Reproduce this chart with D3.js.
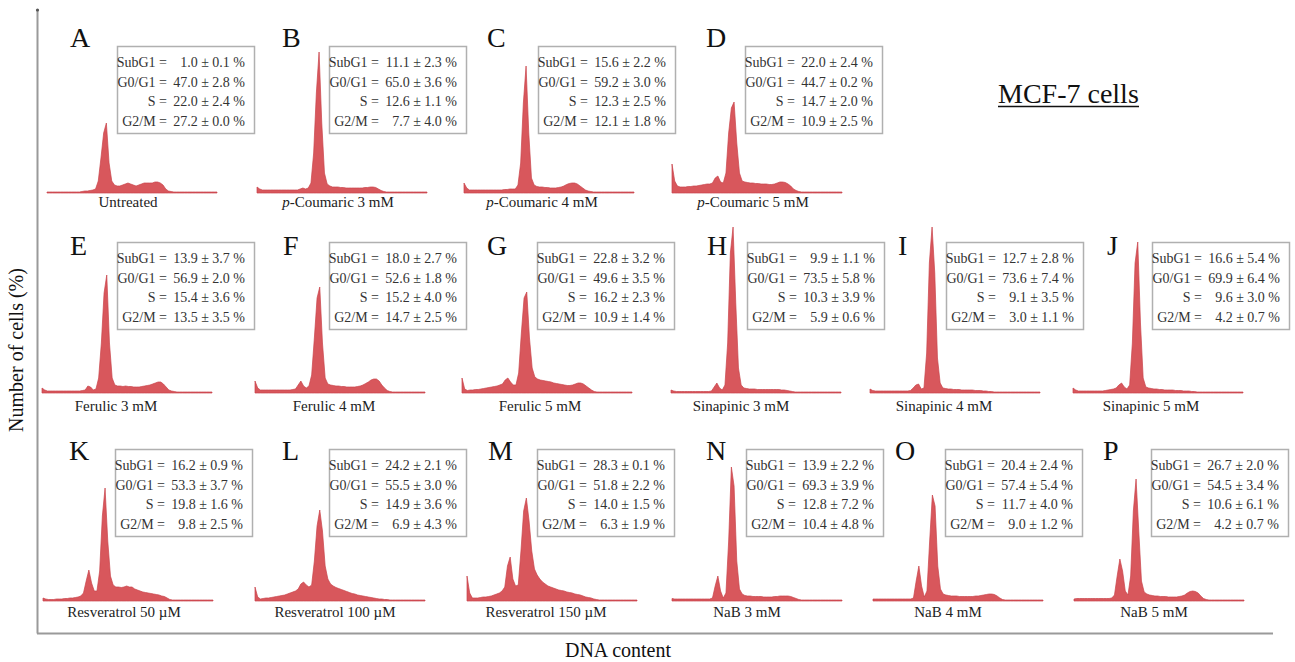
<!DOCTYPE html>
<html>
<head>
<meta charset="utf-8">
<script src="https://cdn.jsdelivr.net/npm/d3@7/dist/d3.min.js"></script>
<style>
  html, body { margin: 0; padding: 0; background: #fff; }
  svg { display: block; font-family: "Liberation Serif", "Times New Roman", serif; }
</style>
</head>
<body>
<svg id="chart" width="1295" height="662"></svg>
<script>
// ---------- DATA ----------
const letters = ["A","B","C","D","E","F","G","H","I","J","K","L","M","N","O","P"];
const treatments = ["Untreated","p-Coumaric 3 mM","p-Coumaric 4 mM","p-Coumaric 5 mM",
  "Ferulic 3 mM","Ferulic 4 mM","Ferulic 5 mM","Sinapinic 3 mM","Sinapinic 4 mM","Sinapinic 5 mM",
  "Resveratrol 50 µM","Resveratrol 100 µM","Resveratrol 150 µM","NaB 3 mM","NaB 4 mM","NaB 5 mM"];
const phaseLabels = ["SubG1 =","G0/G1 =","S =","G2/M ="];
const subG1Vals = ["1.0 ± 0.1","11.1 ± 2.3","15.6 ± 2.2","22.0 ± 2.4","13.9 ± 3.7","18.0 ± 2.7","22.8 ± 3.2","9.9 ± 1.1","12.7 ± 2.8","16.6 ± 5.4","16.2 ± 0.9","24.2 ± 2.1","28.3 ± 0.1","13.9 ± 2.2","20.4 ± 2.4","26.7 ± 2.0"];
const g0g1Vals = ["47.0 ± 2.8","65.0 ± 3.6","59.2 ± 3.0","44.7 ± 0.2","56.9 ± 2.0","52.6 ± 1.8","49.6 ± 3.5","73.5 ± 5.8","73.6 ± 7.4","69.9 ± 6.4","53.3 ± 3.7","55.5 ± 3.0","51.8 ± 2.2","69.3 ± 3.9","57.4 ± 5.4","54.5 ± 3.4"];
const sVals = ["22.0 ± 2.4","12.6 ± 1.1","12.3 ± 2.5","14.7 ± 2.0","15.4 ± 3.6","15.2 ± 4.0","16.2 ± 2.3","10.3 ± 3.9","9.1 ± 3.5","9.6 ± 3.0","19.8 ± 1.6","14.9 ± 3.6","14.0 ± 1.5","12.8 ± 7.2","11.7 ± 4.0","10.6 ± 6.1"];
const g2mVals = ["27.2 ± 0.0","7.7 ± 4.0","12.1 ± 1.8","10.9 ± 2.5","13.5 ± 3.5","14.7 ± 2.5","10.9 ± 1.4","5.9 ± 0.6","3.0 ± 1.1","4.2 ± 0.7","9.8 ± 2.5","6.9 ± 4.3","6.3 ± 1.9","10.4 ± 4.8","9.0 ± 1.2","4.2 ± 0.7"];

// DNA histograms (64 channels each, relative cell counts)
const histA = [1,1,1,1,1,1,1,1,1,1,1,1,1,1.5,2,2,2.5,3,4,12,35,60,70,30,12,8,7,7,8,9,10,9,8,7,8,9,10,10,10,10,11,11,10,8,4,2,1.5,1,1,1,1,1,1,1,1,1,1,1,1,1,1,1,1,1];
const histB = [6,4,3,3,3,3,3,3,3,3,3,3,3,3,3,3,4,5,4,5,10,40,100,141,70,20,9,7,6,6,6,5.5,5.5,5,5,5,5,5,5,5,5.5,5.5,6,6,5.5,4,2.5,1.5,1,1,1,1,1,1,1,1,1,1,1,1,1,1,1,1];
const histC = [10,5,3,3,3,3,3,3,3,3,3,3,3,3,3,3.5,3.5,4,4,4,8,30,90,127,60,15,8,6.5,6,6,5.5,5.5,5,5,5,5.5,6,7,8.5,9.5,10,10,9,7,5,3,2,1.5,1,1,1,1,1,1,1,1,1,1,1,1,1,1,1,1];
const histD = [29,12,7,6,6,6,6.5,6.5,7,7,7.5,8,8.5,9,9,10,15,17,11,10,20,60,85,91,50,20,12,11,10.5,10,10,9.5,9.5,9,9,9,8.5,8.5,9,10,11,11,10.5,9,7,4,2.5,1.5,1,1,1,1,1,1,1,1,1,1,1,1,1,1,1,1];
const histE = [5,3,2,2,2,2,2,2,2,2,2,2,2,2,2,2.5,3,7,6,3,4,15,50,100,118,50,15,8,7,7,6.5,7,6.5,6.5,6,6,6,6.5,7,7.5,8,9,10,11,11,9,6,3,2,1.5,1,1,1,1,1,1,1,1,1,1,1,1,1,1];
const histF = [12,5,3,3,3,3,3,3,3,3,3,3,3,3,3.5,4,8,12,7,5,7,18,55,95,106,50,15,9,8,7.5,7,7,6.5,6.5,6,6,6,6,6.5,7,8,9.5,11,13,14,14,12,8,5,2.5,1.5,1,1,1,1,1,1,1,1,1,1,1,1,1];
const histG = [15,4,2.5,3,3,3.5,3.5,4,4.5,5,5.5,6,6.5,7,8,9,13,15,11,8,8,20,60,95,101,55,25,16,14,13,12.5,12,11.5,11,10,9.5,9,8.5,8,7.5,7.5,8,9,10,10,9,7,5,3,1.5,1,1,1,1,1,1,1,1,1,1,1,1,1,1];
const histH = [3,2,1.5,1.5,1.5,1.5,1.5,1.5,1.5,1.5,1.5,1.5,1.5,1.5,1.5,2,6,10,5,3,8,50,140,166,90,25,8,5,4.5,4,4,4,3.5,3.5,3.5,3.5,3.5,3.5,3.5,3.5,3.5,3,3,2.5,2,1.5,1,1,1,1,1,1,1,1,1,1,1,1,1,1,1,1,1,1];
const histI = [4,2.5,2,2,2,2,2,2,2,2,2,2,2,2,2,2.5,5,8,9,4,5,40,130,166,120,35,10,5,4.5,4,4,3.5,3.5,3.5,3,3,3,3,3,2.5,2.5,2.5,2,2,1.5,1.5,1,1,1,1,1,1,1,1,1,1,1,1,1,1,1,1,1,1];
const histJ = [5,3,2,2,2,2,2,2,2,2,2,2,2.5,3,3.5,4,5,8,10,6,4,8,50,130,151,70,15,6,5,4.5,4,4,3.5,3.5,3,3,3,3,2.5,2.5,2.5,2,2,2,1.5,1.5,1,1,1,1,1,1,1,1,1,1,1,1,1,1,1,1,1,1];
const histK = [3,2,1.5,1.5,1.5,2,2,2,2.5,2.5,3,3,3.5,4,5,8,20,31,18,10,10,30,85,113,60,25,16,14,14,13.5,14,15,14,14,12,11,10,9,8.5,8,7.5,7,6.5,6,5,4.5,3,1.5,1,1,1,1,1,1,1,1,1,1,1,1,1,1,1,1];
const histL = [14,4,2,2.5,3,3,3.5,4,4.5,5,5.5,6,7,8,9,10,12,17,19,16,14,16,40,75,91,70,35,22,17,15,13.5,12.5,11.5,10.5,9.5,8.5,7.5,7,6,5.5,5,4.5,4,3.5,3,2.5,2,2,1.5,1.5,1,1,1,1,1,1,1,1,1,1,1,1,1,1];
const histM = [25,8,3,3,3,3.5,4,4,4.5,5,6,7,8,10,14,35,44,22,15,16,50,90,103,80,50,32,26,22,19,17,15,14,13,12,11,10.5,10,9,8.5,8,7,6.5,6,5,4,3.5,3,2,1.5,1,1,1,1,1,1,1,1,1,1,1,1,1,1,1];
const histN = [2.5,2,2,2,2,2,2,2,2,2,2,2,2,2,2,3,15,25,10,3,8,60,134,115,40,12,7,5.5,5,5,4.5,4.5,4.5,4.5,4,4,4,4,4.5,4.5,5,5,5,5,4.5,3.5,2.5,1.5,1,1,1,1,1,1,1,1,1,1,1,1,1,1,1,1];
const histO = [2,2,2,2,2,2,2,2,2,2,2,2,2,2,2,3,20,35,15,4,10,60,106,95,35,12,7,6,5.5,5,5,5,4.5,4.5,4.5,4.5,4.5,4.5,5,5,5.5,6,6.5,7,7,6.5,5,3,1.5,1,1,1,1,1,1,1,1,1,1,1,1,1,1,1];
const histP = [2,2.5,2.5,2.5,2.5,2.5,2.5,2.5,2.5,2.5,2.5,2.5,2.5,2.5,3,6,25,42,30,10,6,25,90,122,70,20,9,7,6,5.5,5,5,4.5,4.5,4.5,4,4,4,4,4.5,5,6,8,9.5,10,9.5,8,5,2.5,1.5,1,1,1,1,1,1,1,1,1,1,1,1,1,1];
const histograms = [histA,histB,histC,histD,histE,histF,histG,histH,histI,histJ,histK,histL,histM,histN,histO,histP];

// ---------- LAYOUT ----------
const rowOf   = [0,0,0,0,1,1,1,1,1,1,2,2,2,2,2,2];
const histX   = [47,257,464,672, 42,255,462,671,870,1073, 43,255,467,672,873,1074];
const letterX = [70,282,487,706, 70,283,487,707,898,1107, 69,282,488,706,895,1103];
const boxX    = [117,329,538,745, 117,329,537,747,946,1152, 115,329,537,746,945,1151];
const labelCX = [128,338,542,753, 116,334,540,741,944,1151, 124,335,546,747,948,1154];
const rowBase   = [193, 393, 601];
const rowLetter = [47, 255, 460];
const rowBox    = [46, 242, 449];
const rowLabel  = [207, 411, 617];
const histW = 170, boxW = 137, boxH = 87;

const svg = d3.select("#chart");

// frame (axes)
svg.append("line").attr("x1",37.5).attr("x2",37.5).attr("y1",10).attr("y2",633.5)
  .attr("stroke","#9a9a9a").attr("stroke-width",2);
svg.append("line").attr("x1",37).attr("x2",1273).attr("y1",633.5).attr("y2",633.5)
  .attr("stroke","#9a9a9a").attr("stroke-width",2);
svg.append("circle").attr("cx",37.5).attr("cy",10).attr("r",1.6).attr("fill","#555");

svg.append("text").attr("transform","translate(23,350) rotate(-90)")
  .attr("text-anchor","middle").attr("font-size",20).attr("fill","#111").text("Number of cells (%)");
svg.append("text").attr("x",618).attr("y",657).attr("text-anchor","middle")
  .attr("font-size",20).attr("fill","#111").text("DNA content");

const title = svg.append("text").attr("x",998).attr("y",103).attr("font-size",28).attr("fill","#111").text("MCF-7 cells");
svg.append("line").attr("x1",998).attr("x2",1139).attr("y1",106.5).attr("y2",106.5).attr("stroke","#111").attr("stroke-width",1.5);

letters.forEach((L, i) => {
  const r = rowOf[i];
  const base = rowBase[r];
  const data = histograms[i];
  const x = d3.scaleLinear().domain([0, 63]).range([histX[i], histX[i] + histW]);
  const y = d3.scaleLinear().domain([0, 170]).range([base, base - 170]);
  const area = d3.area().x((d, k) => x(k)).y0(base).y1(d => y(d)).curve(d3.curveLinear);
  svg.append("path").datum(data).attr("d", area)
    .attr("fill", "#d8575c").attr("stroke", "#c9444b").attr("stroke-width", 0.7);

  // panel letter
  svg.append("text").attr("x", letterX[i]).attr("y", rowLetter[r])
    .attr("font-size", 28).attr("fill", "#111").text(L);

  // stats box
  const bx = boxX[i], by = rowBox[r];
  svg.append("rect").attr("x", bx + 0.5).attr("y", by + 0.5).attr("width", boxW).attr("height", boxH)
    .attr("fill", "#fff").attr("stroke", "#b0b0b0").attr("stroke-width", 1.5);
  const vals = [subG1Vals[i], g0g1Vals[i], sVals[i], g2mVals[i]];
  phaseLabels.forEach((pl, k) => {
    const ty = by + 21 + k * 19.7;
    svg.append("text").attr("x", bx + 50).attr("y", ty).attr("text-anchor", "end")
      .attr("font-size", 14).attr("fill", "#333").text(pl);
    svg.append("text").attr("x", bx + 128).attr("y", ty).attr("text-anchor", "end")
      .attr("font-size", 14).attr("fill", "#333").text(vals[k] + " %");
  });

  // treatment label
  const t = svg.append("text").attr("x", labelCX[i]).attr("y", rowLabel[r])
    .attr("text-anchor", "middle").attr("font-size", 15).attr("fill", "#222");
  const name = treatments[i];
  if (name.startsWith("p-")) {
    t.append("tspan").attr("font-style", "italic").text("p");
    t.append("tspan").text(name.slice(1));
  } else {
    t.text(name);
  }
});
</script>
</body>
</html>
